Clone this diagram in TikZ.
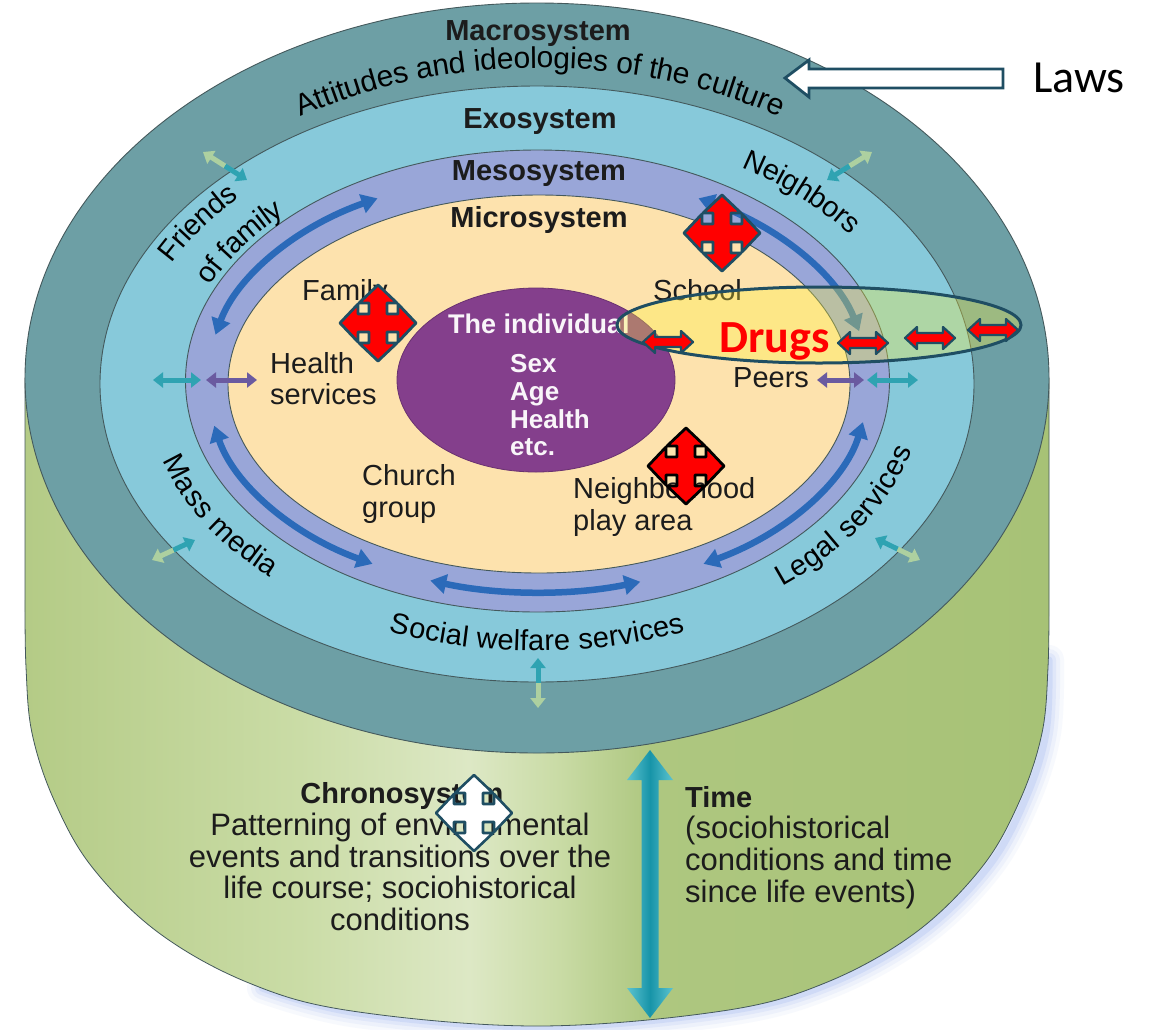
\documentclass[tikz,border=0pt]{standalone}
\usepackage{fontspec}
\setmainfont{Liberation Sans}
\newfontfamily\calibfont{Carlito}
\usetikzlibrary{arrows.meta,calc,decorations.text}
\definecolor{macroC}{HTML}{6D9FA5}
\definecolor{exoC}{HTML}{87C9DA}
\definecolor{mesoC}{HTML}{99A6D8}
\definecolor{microC}{HTML}{FDE2AD}
\definecolor{indivC}{HTML}{843F8C}
\definecolor{mesoArrC}{HTML}{2B6AB9}
\definecolor{edgeC}{HTML}{44595C}
\definecolor{navyC}{HTML}{1F4E63}
\definecolor{txtC}{HTML}{1C1C1C}
\definecolor{paleC}{HTML}{ADD0A0}
\definecolor{tealC}{HTML}{2FA3B2}
\definecolor{purpC}{HTML}{6A5AA0}
\definecolor{timeC}{HTML}{1794A8}
\definecolor{timeL}{HTML}{5CC3D0}
\definecolor{glowC}{HTML}{6E8FE8}
\definecolor{drugC}{HTML}{FFF23A}
\definecolor{gA}{HTML}{B4CB86}
\definecolor{gB}{HTML}{CADCA6}
\definecolor{gC}{HTML}{DDE8C5}
\definecolor{gD}{HTML}{C9DBA5}
\definecolor{gE}{HTML}{AEC780}
\definecolor{gF}{HTML}{A7C276}
\pgfdeclarehorizontalshading{cylshade}{100bp}{color(0bp)=(gA); color(25bp)=(gA); color(38.4bp)=(gB); color(46.7bp)=(gC); color(51.1bp)=(gD); color(55.5bp)=(gE); color(75bp)=(gF); color(100bp)=(gF)}
\begin{document}
\begin{tikzpicture}[x=1pt,y=1pt,
  ringline/.style={draw=edgeC, line width=0.9pt},
  lab/.style={font=\fontsize{29}{32}\selectfont, text=txtC, inner sep=0pt},
  boldlab/.style={font=\fontsize{29}{32}\selectfont\bfseries, text=txtC, inner sep=0pt},
  chlab/.style={font=\fontsize{31}{32}\selectfont, text=txtC, inner sep=0pt},
  indlab/.style={font=\fontsize{26}{28}\selectfont\bfseries, text=white!95!indivC, inner sep=0pt},
  mesoarr/.style={draw=mesoArrC, line width=6.5pt, {Triangle[length=16pt,width=19pt]}-{Triangle[length=16pt,width=19pt]}},
  halfarr/.style={line width=5pt, -{Triangle[length=10pt,width=15pt]}},
  duoarr/.style={line width=5pt, {Triangle[length=10pt,width=15pt]}-{Triangle[length=10pt,width=15pt]}},
  ringtxt/.style={decorate, decoration={text along path, text={|\fontsize{29}{29}\selectfont|#1}, text align=center, raise=-10pt}},
  bigringtxt/.style={decorate, decoration={text along path, text={|\fontsize{30}{30}\selectfont|#1}, text align=center, raise=-10pt}},
  redcross/.style={fill=red, draw=navyC, line width=2.8pt, line join=round},
  redlr/.style={fill=red, draw=navyC, line width=2.2pt, line join=round},
  quad/.pic={\path[pic actions] (0,38) -- (19,20) -- (9,20) -- (9,9) -- (20,9) -- (20,19) -- (38,0) -- (20,-19) -- (20,-9) -- (9,-9) -- (9,-20) -- (19,-20) -- (0,-38) -- (-19,-20) -- (-9,-20) -- (-9,-9) -- (-20,-9) -- (-20,-19) -- (-38,0) -- (-20,19) -- (-20,9) -- (-9,9) -- (-9,20) -- (-19,20) -- cycle;},
  lrarr/.pic={\path[pic actions] (-25,0) -- (-13,11) -- (-13,5) -- (13,5) -- (13,11) -- (25,0) -- (13,-11) -- (13,-5) -- (-13,-5) -- (-13,-11) -- cycle;}
]
\useasboundingbox (0,0) rectangle (1151,-1029);
\fill[white] (0,0) rectangle (1151,-1029);

% glow under the cylinder (bottom right)
\foreach \w/\op in {30/0.05,22/0.07,14/0.1,7/0.14}{
  \draw[glowC, line width=\w pt, opacity=\op, line cap=round] plot[smooth, tension=0.6] coordinates {(1049,-660) (1046,-733) (1025,-800) (988,-867) (921,-933) (831,-983) (728,-1011) (543,-1027) (358,-1013) (262,-988)};
}

% cylinder side
\shadedraw[shading=cylshade, draw=edgeC, line width=0.8pt] (25,-378) -- plot[smooth, tension=0.6] coordinates {(25,-600) (26,-667) (32,-733) (54,-800) (92,-867) (159,-933) (249,-983) (352,-1011) (537,-1026) (722,-1011) (825,-983) (915,-933) (982,-867) (1020,-800) (1042,-733) (1048,-667) (1049,-600)} -- (1049,-378) -- cycle;

% rings
\coordinate (OC) at (537,-378);
\coordinate (XC) at (537,-384);
\coordinate (MSC) at (537.5,-381);
\coordinate (MIC) at (539,-384);
\coordinate (IC) at (536,-380);
\coordinate (RC) at (537,-382);
\coordinate (AC) at (540,-380);
\coordinate (AR) at (538,-382);
\filldraw[fill=macroC, ringline] (OC) ellipse[x radius=512, y radius=375];
\filldraw[fill=exoC, ringline] (XC) ellipse[x radius=437, y radius=298];
\filldraw[fill=mesoC, ringline] (MSC) ellipse[x radius=352, y radius=231];
\filldraw[fill=microC, ringline] (MIC) ellipse[x radius=311, y radius=189];
\filldraw[fill=indivC, draw=indivC!80!black, line width=0.8pt] (IC) ellipse[x radius=139, y radius=92];

% mesosystem arrows
\draw[mesoarr] ($(AR)+(167:331 and 210)$) arc[start angle=167, end angle=119, x radius=331, y radius=210];
\draw[mesoarr] ($(AR)+(61:331 and 210)$) arc[start angle=61, end angle=14, x radius=331, y radius=210];
\draw[mesoarr] ($(AR)+(192:331 and 210)$) arc[start angle=192, end angle=240, x radius=331, y radius=210];
\draw[mesoarr] ($(AR)+(251:331 and 210)$) arc[start angle=251, end angle=288, x radius=331, y radius=210];
\draw[mesoarr] ($(AR)+(300:331 and 210)$) arc[start angle=300, end angle=349, x radius=331, y radius=210];

% small crossing arrows (exo <-> macro)
\coordinate (fa1) at (203,-152); \coordinate (fa2) at (247,-180);
\draw[halfarr, paleC] ($(fa1)!0.5!(fa2)$) -- (fa1);
\draw[halfarr, tealC] ($(fa1)!0.5!(fa2)$) -- (fa2);
\coordinate (na1) at (872,-152); \coordinate (na2) at (827,-180);
\draw[halfarr, paleC] ($(na1)!0.5!(na2)$) -- (na1);
\draw[halfarr, tealC] ($(na1)!0.5!(na2)$) -- (na2);
\coordinate (mm1) at (152,-560); \coordinate (mm2) at (195,-540);
\draw[halfarr, paleC] ($(mm1)!0.5!(mm2)$) -- (mm1);
\draw[halfarr, tealC] ($(mm1)!0.5!(mm2)$) -- (mm2);
\coordinate (ls1) at (920,-560); \coordinate (ls2) at (875,-538);
\draw[halfarr, paleC] ($(ls1)!0.5!(ls2)$) -- (ls1);
\draw[halfarr, tealC] ($(ls1)!0.5!(ls2)$) -- (ls2);
\coordinate (sw1) at (538,-708); \coordinate (sw2) at (538,-658);
\draw[halfarr, paleC] ($(sw1)!0.5!(sw2)$) -- (sw1);
\draw[halfarr, tealC] ($(sw1)!0.5!(sw2)$) -- (sw2);

% health services / peers arrows
\coordinate (h1) at (153,-380); \coordinate (h2) at (201,-380);
\coordinate (h3) at (206,-380); \coordinate (h4) at (257,-380);
\draw[duoarr, tealC] (h1) -- (h2);
\draw[duoarr, purpC] (h3) -- (h4);
\coordinate (p1) at (817,-380); \coordinate (p2) at (864,-380);
\coordinate (p3) at (867,-380); \coordinate (p4) at (918,-380);
\draw[duoarr, purpC] (p1) -- (p2);
\draw[duoarr, tealC] (p3) -- (p4);

% ring titles
\node[boldlab, anchor=base] (macro) at (538,-40) {Macrosystem};
\node[boldlab, anchor=base] (exo) at (540,-128) {Exosystem};
\node[boldlab, anchor=base] (meso) at (539,-180) {Mesosystem};
\node[boldlab, anchor=base] (micro) at (539,-227) {Microsystem};

% curved ring labels
\path[bigringtxt={Attitudes and ideologies of the culture}] ($(AC)+(180:455 and 322)$) arc[start angle=180, end angle=0, x radius=455, y radius=322];
\path[ringtxt={Friends}] ($(RC)+(164:417 and 280)$) arc[start angle=164, end angle=128, x radius=417, y radius=280];
\path[ringtxt={of family}] ($(RC)+(166:368 and 247)$) arc[start angle=166, end angle=126, x radius=368, y radius=247];
\path[ringtxt={Neighbors}] ($(RC)+(66:394 and 264)$) arc[start angle=66, end angle=26, x radius=394, y radius=264];
\path[ringtxt={Mass media}] ($(RC)+(189:382 and 256.5)$) arc[start angle=189, end angle=233, x radius=382, y radius=256.5];
\path[ringtxt={Social welfare services}] ($(RC)+(232:387 and 259)$) arc[start angle=232, end angle=308, x radius=387, y radius=259];
\path[ringtxt={Legal services}] ($(RC)+(305:378 and 253.6)$) arc[start angle=305, end angle=351, x radius=378, y radius=253.6];

% microsystem labels
\node[lab, anchor=base west] (family) at (302,-300) {Family};
\node[lab, anchor=base west] (health1) at (270,-373) {Health};
\node[lab, anchor=base west] (health2) at (270,-404) {services};
\node[lab, anchor=base west] (school) at (653,-300) {School};
\node[lab, anchor=base west] (peers) at (733,-387) {Peers};
\node[lab, anchor=base west] (church1) at (362,-485) {Church};
\node[lab, anchor=base west] (church2) at (362,-517) {group};
\node[lab, anchor=base west] (nbh1) at (573,-498) {Neighborhood};
\node[lab, anchor=base west] (nbh2) at (573,-530) {play area};

% individual
\node[indlab, font=\fontsize{27}{28}\selectfont\bfseries, anchor=base west] (ind0) at (448,-333) {The individual};
\node[indlab, anchor=base west] (ind1) at (510,-372) {Sex};
\node[indlab, anchor=base west] (ind2) at (510,-400) {Age};
\node[indlab, anchor=base west] (ind3) at (510,-428) {Health};
\node[indlab, anchor=base west] (ind4) at (510,-455) {etc.};

% time arrow
\coordinate (tTop) at (650,-750);
\coordinate (tBot) at (650,-1018);
\shade[left color=timeL, right color=timeL, middle color=timeC] (tTop) -- ++(23,-30) -- ++(-14.5,0) -- ($(tBot)+(8.5,30)$) -- ++(14.5,0) -- (tBot) -- ++(-23,30) -- ++(14.5,0) -- ($(tTop)+(-8.5,-30)$) -- ++(-14.5,0) -- cycle;

% chronosystem text
\node[boldlab, anchor=base] (chrono) at (402,-803) {Chronosystem};
\node[chlab, anchor=base] (chr1) at (400,-835) {Patterning of environmental};
\node[chlab, anchor=base] (chr2) at (400,-867) {events and transitions over the};
\node[chlab, anchor=base] (chr3) at (400,-898) {life course; sociohistorical};
\node[chlab, anchor=base] (chr4) at (400,-930) {conditions};
\node[boldlab, anchor=base west] (time0) at (685,-807) {Time};
\node[chlab, anchor=base west] (time1) at (685,-838) {(sociohistorical};
\node[chlab, anchor=base west] (time2) at (685,-870) {conditions and time};
\node[chlab, anchor=base west] (time3) at (685,-902) {since life events)};

% drugs overlay
\coordinate (DC) at (819,-325);
\filldraw[fill=drugC, fill opacity=0.33, draw=navyC, line width=3pt] (DC) ellipse[x radius=202, y radius=38];
\pic[redlr] at (668,-342) {lrarr};
\pic[redlr] at (863,-343) {lrarr};
\pic[redlr] at (930,-338) {lrarr};
\pic[redlr] at (993,-330) {lrarr};
\node[font=\calibfont\fontsize{46}{46}\selectfont\bfseries, text=red, inner sep=0pt, anchor=base west] (drugs) at (719,-352) {Drugs};

% quad arrows
\pic[redcross] at (722,-233) {quad};
\pic[redcross] at (378,-323) {quad};
\pic[fill=red, draw=black, line width=2.8pt, line join=round] at (686,-466) {quad};
\pic[fill=white, draw=navyC, line width=2.6pt, line join=round] at (474,-813) {quad};

% laws arrow
\node[font=\calibfont\fontsize{46}{46}\selectfont, text=black, inner sep=0pt, anchor=base west] (laws) at (1033,-92) {Laws};
\filldraw[fill=white, draw=navyC, line width=2.8pt, line join=miter] (785,-78) -- (809,-60) -- (809,-69) -- (1003,-69) -- (1003,-88) -- (809,-88) -- (809,-97) -- cycle;
\end{tikzpicture}
\end{document}
